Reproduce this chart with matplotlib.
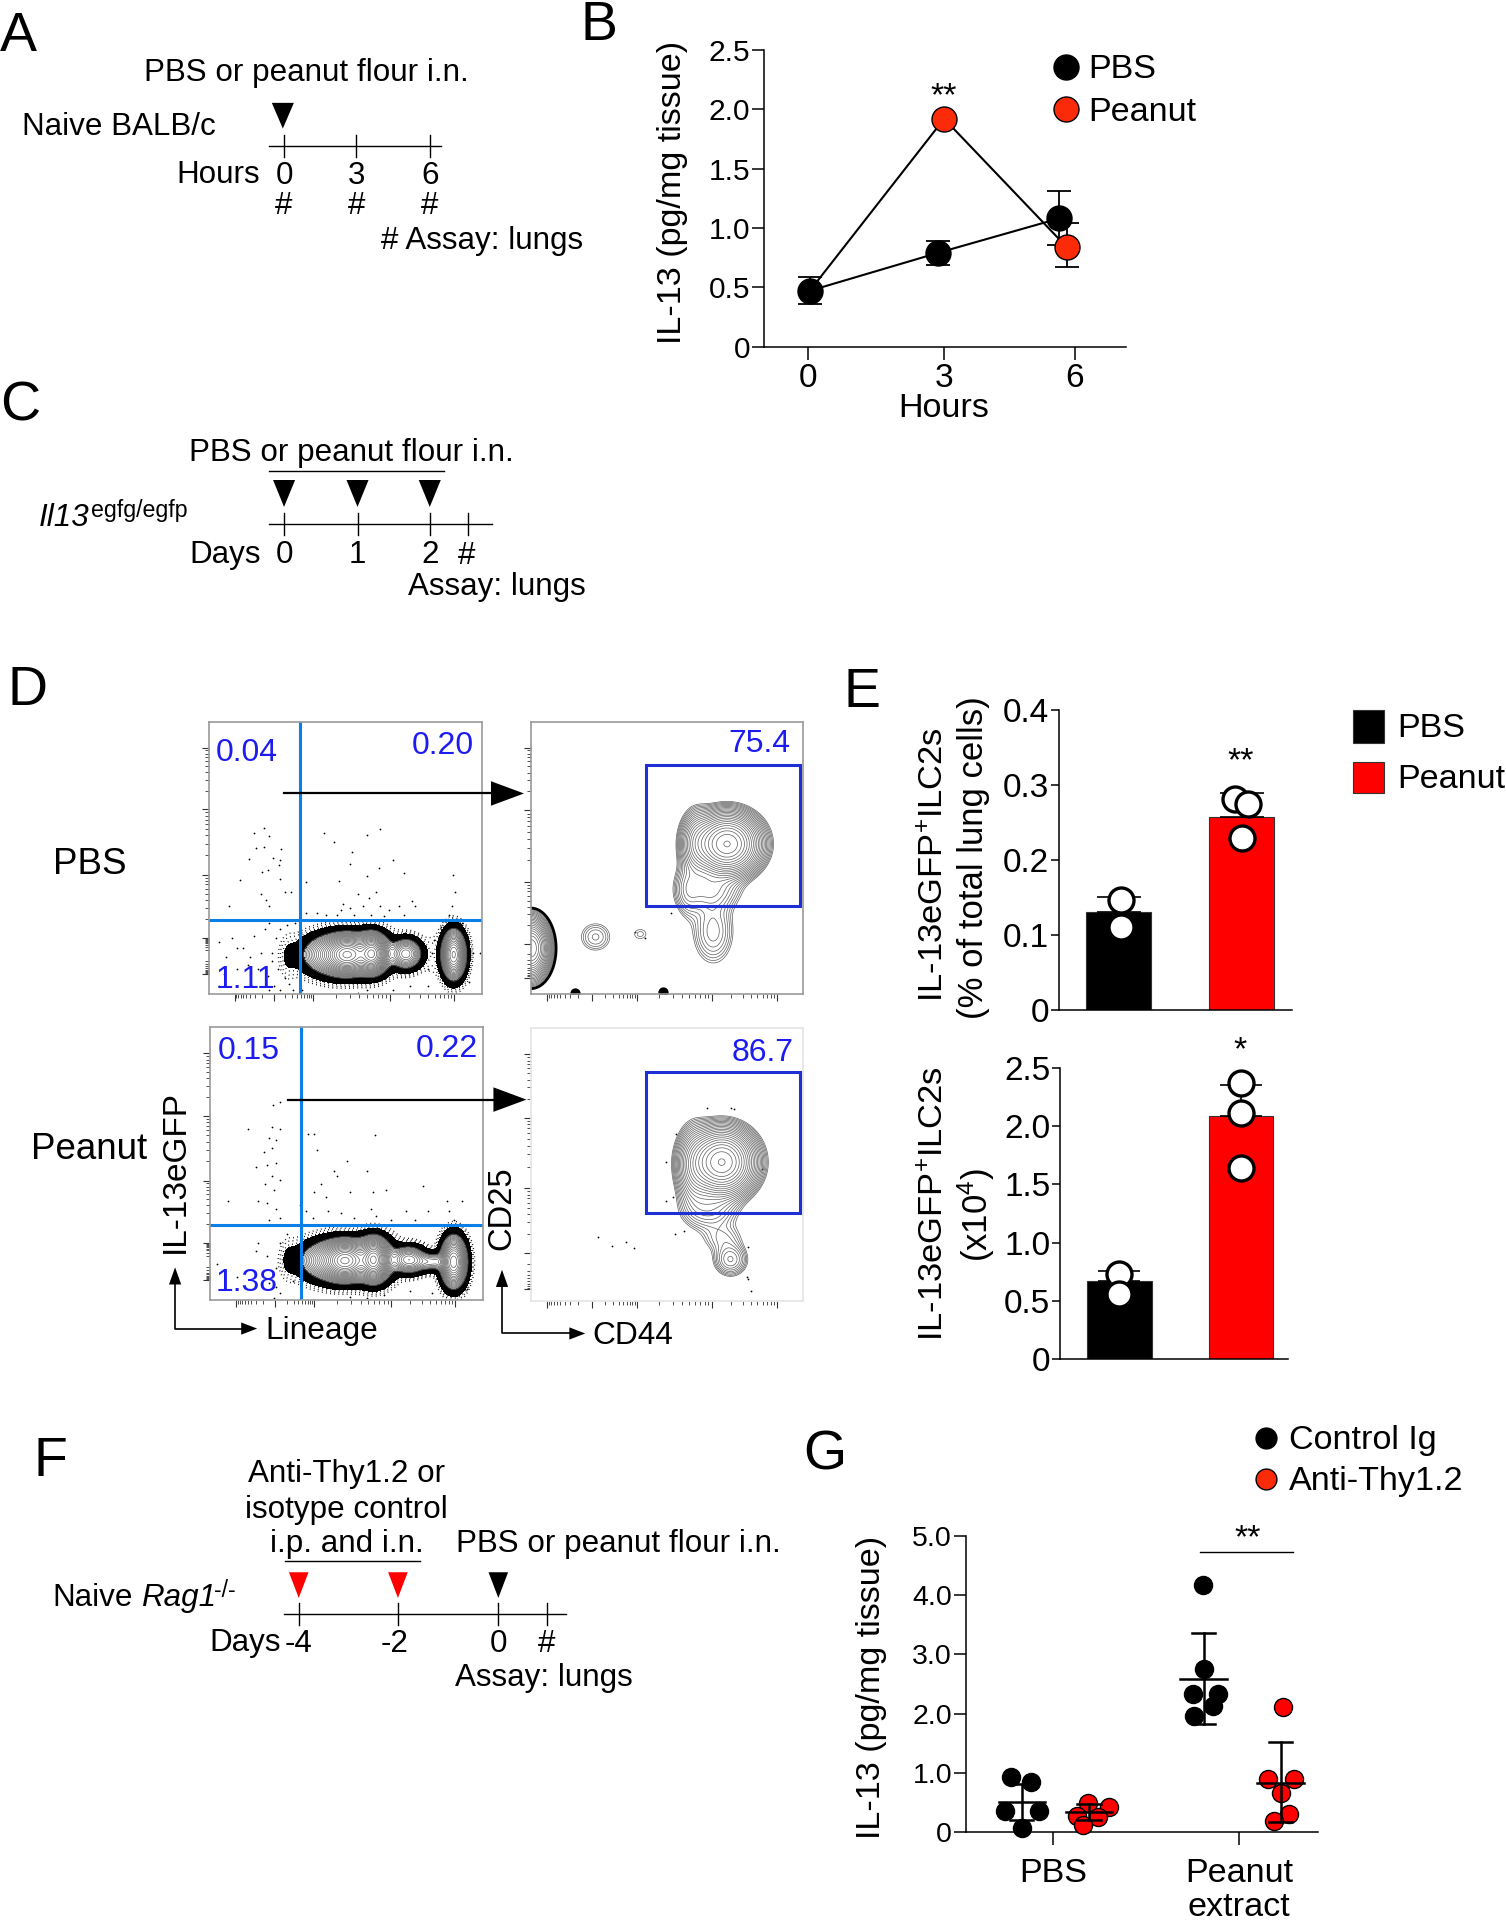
import numpy as np
import matplotlib
matplotlib.use('Agg')
import matplotlib.pyplot as plt
from matplotlib.patches import Rectangle

plt.rcParams['font.family'] = ['Liberation Sans', 'DejaVu Sans']
plt.rcParams['mathtext.fontset'] = 'custom'
plt.rcParams['mathtext.rm'] = 'Liberation Sans'
plt.rcParams['mathtext.it'] = 'Liberation Sans:italic'
plt.rcParams['mathtext.bf'] = 'Liberation Sans:bold'
plt.rcParams['mathtext.default'] = 'regular'

W, H = 1506, 1920
FS = 22.6
BIG = 24.6
BLUE = '#1c1cf0'
RED_B = '#fb2a08'
RED = '#fe0000'

# panel B
hours = [0, 3, 6]
pbs_x = [0.04, 2.83, 5.46]
pbs_y = [0.47, 0.79, 1.08]
pbs_lo = [0.36, 0.69, 0.86]
pbs_hi = [0.59, 0.89, 1.31]
pea_x = [0.04, 2.96, 5.62]
pea_y = [0.47, 1.92, 0.84]
pea_lo = [0.47, 1.92, 0.67]
pea_hi = [0.47, 1.92, 1.04]

# panel E
bar_names = [1, 2]
pct_means = [0.13, 0.258]
pct_hi = [0.151, 0.29]
pct_pts_x = [[1.02, 1.02], [1.95, 2.05, 2.0]]
pct_pts_y = [[0.147, 0.11], [0.281, 0.275, 0.23]]
num_means = [0.67, 2.09]
num_hi = [0.76, 2.35]
num_pts_x = [[1.0, 1.0], [2.0, 2.0, 2.0]]
num_pts_y = [[0.73, 0.557], [2.37, 2.11, 1.645]]

# panel G
g_groups = ['PBS', 'Peanut\nextract']
g_black1_x = [0.772, 0.882, 0.74, 0.923, 0.832]
g_black1_y = [0.922, 0.844, 0.349, 0.349, 0.067]
g_red1_x = [1.19, 1.299, 1.129, 1.242, 1.161]
g_red1_y = [0.489, 0.416, 0.276, 0.253, 0.112]
g_black2_x = [1.806, 1.814, 1.751, 1.887, 1.86, 1.758]
g_black2_y = [4.18, 2.756, 2.329, 2.334, 2.12, 1.957]
g_red2_x = [2.235, 2.158, 2.297, 2.226, 2.267, 2.188]
g_red2_y = [2.115, 0.9, 0.9, 0.652, 0.298, 0.191]
g_center = [0.832, 1.193, 1.81, 2.224]
g_mean = [0.506, 0.332, 2.587, 0.832]
g_top = [0.815, 0.478, 3.364, 1.513]
g_bot = [0.197, 0.197, 1.817, 0.169]

# panel D, everything read in crop pixels of the reference
# contours come from population centres and spreads: (x, y, sx, sy, amp)
d1_blobs = [(455, 605, 22, 20, 1), (512, 603, 14, 20, 1), (440, 605, 40, 24, .5), (510, 602, 24, 24, .4),
            (590, 603, 18, 18, .3), (700, 605, 13, 27, .75), (320, 610, 12, 28, .011), (650, 605, 14, 30, .005)]
d3_blobs = [(450, 1332, 22, 20, 1), (516, 1330, 14, 22, 1), (440, 1332, 42, 24, .5), (515, 1330, 24, 26, .4),
            (596, 1330, 20, 16, .3), (700, 1335, 14, 28, .8), (650, 1335, 25, 12, .12), (320, 1330, 11, 26, .011)]
d2_blobs = [(1330, 342, 36, 34, 1), (1260, 340, 20, 40, .12), (1298, 550, 28, 46, .045), (1290, 450, 40, 30, .06),
            (1027, 563, 25, 24, .028), (1130, 556, 17, 14, .016), (1240, 450, 18, 40, .035), (878, 590, 20, 33, .8)]
d2_heavy = [(878, 590, 20, 33, .8)]
d4_blobs = [(1318, 1098, 36, 37, 1), (1255, 1110, 22, 50, .12), (1290, 1210, 38, 30, .05),
            (1320, 1280, 30, 22, .025), (1338, 1330, 22, 22, .06)]
d1_dots = [(240,317),(262,305),(275,322),(262,350),(245,352),(228,378),(302,355),(283,375),(298,392),(300,380),
           (208,428),(258,408),(272,405),(300,425),(255,460),(268,475),(275,490),(182,490),(310,455),(325,455),
           (360,432),(402,315),(423,337),(500,320),(531,307),(465,360),(460,390),(435,430),(560,380),(528,400),
           (500,418),(585,410),(698,415),(703,457),(605,478),(480,462),(520,455),(505,470),(445,485),(460,495),
           (490,490),(530,490),(550,500),(575,490),(610,490),(695,490),(690,510),(440,500),(470,510),(510,510),
           (540,512),(585,510),(430,510),(360,505),(385,505),(405,510),(160,575),(190,565),(215,590),(240,560),
           (265,545),(290,565),(175,610),(200,590),(230,610),(255,600),(280,600),(170,650),(200,640),(225,630),
           (250,640),(295,640),(310,660),(160,680),(235,680),(275,690),(285,680),(300,690),(320,675),(745,600),
           (760,600),(640,640),(650,600),(655,570),(670,540),(720,530),(735,670),(640,680),(600,680),(560,690),
           (480,695),(500,690),(275,530),(300,545),(315,535),(335,530),(280,620),(272,655),(330,690),(350,690)]
d3_dots = [(283,962),(300,955),(225,1020),(282,1015),(300,1020),(275,1040),(290,1045),(280,1065),(262,1075),
           (245,1110),(270,1105),(290,1100),(280,1130),(300,1140),(265,1150),(285,1165),(250,1190),(270,1195),
           (290,1210),(275,1235),(300,1230),(180,1190),(365,1032),(378,1032),(518,1033),(385,1070),(453,1095),
           (425,1120),(500,1120),(430,1130),(395,1150),(378,1170),(405,1180),(460,1170),(515,1170),(545,1165),
           (630,1155),(590,1215),(640,1215),(685,1190),(720,1190),(690,1215),(510,1210),(520,1225),(440,1220),
           (470,1230),(375,1230),(410,1215),(345,1200),(360,1215),(555,1235),(610,1235),(700,1235),(250,1290),
           (270,1320),(290,1350),(245,1310),(300,1290),(315,1270),(320,1300),(275,1385),(290,1395),(300,1410),
           (285,1420),(330,1380),(460,1418),(500,1420),(540,1415),(600,1405),(650,1410),(730,1400),(740,1320),
           (732,1280),(155,1340),(200,1370)]
d2_dots = [(1200,505),(1140,565),(1118,552)]
d4_dots = [(1033,1275),(1065,1298),(1098,1288),(1115,1302),(1283,970),(1338,970),(1345,972),(1213,1032),
           (1190,1098),(1410,1115),(1205,1180),(1190,1190),(1230,1262),(1210,1268),(1378,1300),(1378,1375),
           (1385,1405),(1375,1370)]
d2_big_dots = [(980, 697), (1182, 693)]


def px_axes(left, top, right, bottom):
    return fig.add_axes([left / W, 1 - bottom / H, (right - left) / W, (bottom - top) / H])


def style(ax, size=24, length=9, pad=3):
    for side in ['top', 'right']:
        ax.spines[side].set_visible(False)
    for side in ['left', 'bottom']:
        ax.spines[side].set_linewidth(1.1)
    ax.tick_params(labelsize=size, width=1.1, length=length, pad=pad)
    ax.patch.set_alpha(0)


def decade_ticks(decades):
    out = []
    for a, b in decades:
        out += [a + (b - a) * np.log10(k) for k in range(2, 10)]
    return out


def density(gx, gy, blobs):
    z = np.zeros_like(gx, dtype=float)
    for bx, by, sx, sy, amp in blobs:
        z += amp * np.exp(-(gx - bx) ** 2 / (2 * sx ** 2) - (gy - by) ** 2 / (2 * sy ** 2))
    return z


def flow_panel(box, xlim, ylim, blobs, dots, xmajor, xdec, ymajor, ydec, frame, band=None, levels=None, heavy=None):
    ax = px_axes(*box)
    ax.set_xlim(*xlim)
    ax.set_ylim(*ylim)
    gx, gy = np.meshgrid(np.arange(xlim[0], xlim[1] + 1), np.arange(ylim[1], ylim[0] + 1))
    z = density(gx, gy, blobs)
    if band:
        ax.contourf(gx, gy, z, levels=band, colors='k')
        # stipple fringe round the black band, where the events thin out
        ax.contour(gx, gy, z, levels=[band[0] * 0.22, band[0] * 0.4, band[0] * 0.7], colors='k',
                   linewidths=1.0, linestyles=[(0, (0.6, 2.4))])
    ax.contour(gx, gy, z, levels=levels, colors='#5e5e5e', linewidths=0.5)
    if heavy:
        ax.contour(gx, gy, density(gx, gy, heavy), levels=[0.012], colors='k', linewidths=2)
    ax.scatter([d[0] for d in dots], [d[1] for d in dots], s=1.6, c='k', linewidths=0)
    ax.set_xticks(xmajor)
    ax.set_yticks(ymajor)
    ax.set_xticks(decade_ticks(xdec), minor=True)
    ax.set_yticks(decade_ticks(ydec), minor=True)
    ax.tick_params(labelbottom=False, labelleft=False, length=5, width=0.8, color='#333333')
    ax.tick_params(which='minor', length=3, width=0.6, color='#333333')
    for s in ax.spines.values():
        s.set_color(frame)
        s.set_linewidth(1.2)
    return ax


fig = plt.figure(figsize=(W / 100, H / 100), dpi=100)

# B
ax = px_axes(764, 50, 1126, 346.5)
style(ax)
ax.set_xlim((764 - 808) / 46, (1126 - 808) / 46)
ax.set_ylim(0, 2.5)
ax.set_xticks([0, 2.96, 5.8])
ax.set_xticklabels(hours)
ax.set_yticks([0, 0.5, 1, 1.5, 2, 2.5])
ax.set_yticklabels(['0', '0.5', '1.0', '1.5', '2.0', '2.5'])
ax.tick_params(axis='y', labelsize=21.5, pad=1)
ax.errorbar(pbs_x, pbs_y, yerr=[np.subtract(pbs_y, pbs_lo), np.subtract(pbs_hi, pbs_y)], color='k', lw=1.5,
            marker='o', ms=18, mfc='k', mec='k', capsize=8.5, capthick=1.3, elinewidth=1.3, clip_on=False)
ax.errorbar(pea_x, pea_y, yerr=[np.subtract(pea_y, pea_lo), np.subtract(pea_hi, pea_y)], color='k', lw=1.5,
            fmt='-', capsize=8.5, capthick=1.3, elinewidth=1.3, zorder=3)
ax.plot(pea_x[1:], pea_y[1:], 'o', ms=18, mfc=RED_B, mec='k', mew=1, zorder=4)
ax.plot(pbs_x[:1], pbs_y[:1], 'o', ms=13, mfc='k', mec='k', zorder=5)

# E
ax = px_axes(1059, 710, 1292, 1010)
style(ax, length=6, pad=1)
ax.set_xlim(0.516, 2.41)
ax.set_ylim(0, 0.4)
ax.set_xticks([])
ax.set_yticks([0, 0.1, 0.2, 0.3, 0.4])
ax.set_yticklabels(['0', '0.1', '0.2', '0.3', '0.4'])
ax.bar(bar_names, pct_means, width=0.53, color=['k', RED], edgecolor='#333333', linewidth=0.8)
ax.errorbar(bar_names, pct_means, yerr=[[0, 0], np.subtract(pct_hi, pct_means)], fmt='none', ecolor='k',
            capsize=16, elinewidth=1.2, capthick=1.2)
for px_, py_ in zip(pct_pts_x, pct_pts_y):
    ax.plot(px_, py_, 'o', ms=18, mfc='white', mec='k', mew=2.4, ls='none', zorder=4, clip_on=False)

ax = px_axes(1060, 1068, 1288, 1359)
style(ax, length=6, pad=1)
ax.set_xlim(0.51, 2.39)
ax.set_ylim(0, 2.5)
ax.set_xticks([])
ax.set_yticks([0, 0.5, 1, 1.5, 2, 2.5])
ax.set_yticklabels(['0', '0.5', '1.0', '1.5', '2.0', '2.5'])
ax.bar(bar_names, num_means, width=0.53, color=['k', RED], edgecolor='#333333', linewidth=0.8)
ax.errorbar(bar_names, num_means, yerr=[[0, 0], np.subtract(num_hi, num_means)], fmt='none', ecolor='k',
            capsize=15, elinewidth=1.2, capthick=1.2)
for px_, py_ in zip(num_pts_x, num_pts_y):
    ax.plot(px_, py_, 'o', ms=18, mfc='white', mec='k', mew=2.4, ls='none', zorder=4, clip_on=False)

# G
ax = px_axes(966, 1536, 1318, 1832)
style(ax, size=20.5, pad=1)
ax.set_xlim(1 + (966 - 1053) / 186, 1 + (1318 - 1053) / 186)
ax.set_ylim(0, 5)
ax.set_xticks([1, 2])
ax.set_xticklabels(g_groups, linespacing=1.1, fontsize=BIG)
ax.tick_params(axis='x', pad=10)
ax.set_yticks([0, 1, 2, 3, 4, 5])
ax.set_yticklabels(['0', '1.0', '2.0', '3.0', '4.0', '5.0'])
for gx_, gy_, col in [(g_black1_x, g_black1_y, 'k'), (g_red1_x, g_red1_y, RED),
                      (g_black2_x, g_black2_y, 'k'), (g_red2_x, g_red2_y, RED)]:
    ax.plot(gx_, gy_, 'o', ms=13, mfc=col, mec='k', mew=1, ls='none', clip_on=False, zorder=3)
for c, m, t_, b in zip(g_center, g_mean, g_top, g_bot):
    ax.plot([c, c], [b, t_], color='k', lw=1.8, zorder=4)
    ax.plot([c - 0.125, c + 0.125], [m, m], color='k', lw=1.8, zorder=4)
    ax.plot([c - 0.063, c + 0.063], [t_, t_], color='k', lw=1.8, zorder=4)
    ax.plot([c - 0.063, c + 0.063], [b, b], color='k', lw=1.8, zorder=4)
ax.plot([1.79, 2.29], [4.73, 4.73], color='k', lw=1)

# D
lev = np.geomspace(0.05, 1.4, 21)
lev2 = np.geomspace(0.012, 0.98, 23)
x1 = [195, 285, 375, 553, 700]
a = flow_panel((208.6, 721.9, 481.9, 993.8), (135, 765), (698, 52), d1_blobs, d1_dots, x1,
               [(285, 195), (285, 375), (375, 553), (553, 700)], [113, 260, 415, 565, 650],
               [(260, 113), (415, 260), (565, 415), (607, 565), (607, 650)], '#9a9a9a',
               band=[0.01, 0.05], levels=lev)
a.axvline(345, color='#0a7fe8', lw=2.2)
a.axhline(522, color='#0a7fe8', lw=2.2)
x3 = [198, 288, 378, 556, 703]
a = flow_panel((209.9, 1027.4, 482.8, 1299.7), (138, 767), (1425, 778), d3_blobs, d3_dots, x3,
               [(288, 198), (288, 378), (378, 556), (556, 703)], [840, 988, 1142, 1290, 1378],
               [(988, 840), (1142, 988), (1290, 1142), (1335, 1290), (1335, 1378)], '#9a9a9a',
               band=[0.01, 0.05], levels=lev)
a.axvline(349, color='#0a7fe8', lw=2.2)
a.axhline(1248, color='#0a7fe8', lw=2.2)
x2 = [915, 1018, 1122, 1295, 1445]
a = flow_panel((530.5, 721.9, 803, 993.8), (877, 1505), (698, 52), d2_blobs, d2_dots, x2,
               [(1018, 915), (1018, 1122), (1122, 1295), (1295, 1445)], [113, 262, 432, 580, 660],
               [(262, 113), (432, 262), (580, 432), (580, 660)], '#9a9a9a',
               levels=lev2, heavy=d2_heavy)
a.scatter([d[0] for d in d2_big_dots], [d[1] for d in d2_big_dots], s=55, c='k', linewidths=0)
a.add_patch(Rectangle((1144, 155), 353, 335, fill=False, ec='#1f2fd6', lw=2.2, zorder=5))
a = flow_panel((530.5, 1028.3, 803, 1301), (877, 1505), (1428, 780), d4_blobs, d4_dots, x2,
               [(1018, 915), (1018, 1122), (1122, 1295), (1295, 1445)], [842, 992, 1160, 1315, 1400],
               [(992, 842), (1160, 992), (1315, 1160), (1315, 1400)], '#e4e4e4',
               levels=lev2)
a.add_patch(Rectangle((1143, 885), 354, 335, fill=False, ec='#1f2fd6', lw=2.2, zorder=5))

# overlay in the 1230 wide coordinates of the shrunk reference
os_ = fig.add_axes([0, 0, 1, 1], zorder=11)
os_.set_xlim(0, 1230)
os_.set_ylim(1568, 0)
os_.axis('off')


def t(x, y, s, ha='left', size=FS, color='k', rot=0, **kw):
    os_.text(x, y + 2, s, ha=ha, va='center', fontsize=size, color=color, rotation=rot, **kw)


def tri(x, y0, y1, color='k', half=9):
    os_.fill([x - half, x + half, x], [y0, y0, y1], color=color, lw=0)


def timeline(x0, x1, y, ticks, dy=9):
    os_.plot([x0, x1], [y, y], color='k', lw=1)
    for v in ticks:
        os_.plot([v, v], [y - dy, y + dy], color='k', lw=1)


# panel letters
for x, y, s in [(0, 28, 'A'), (474, 19, 'B'), (0, 330, 'C'), (6, 562, 'D'), (689, 564, 'E'), (27, 1192, 'F'),
                (656, 1187, 'G')]:
    t(x, y, s, size=40)

# A
t(250, 58, 'PBS or peanut flour i.n.', ha='center')
t(18, 102, 'Naive BALB/c')
tri(231, 84, 105)
timeline(220, 360, 119, [232, 291, 351])
t(212, 141, 'Hours', ha='right')
for x, s in zip([232, 291, 351], hours):
    t(x, 142, str(s), ha='center')
    t(x, 166, '#', ha='center')
t(311, 195, '# Assay: lungs')

# B text
t(549, 155, 'IL-13 (pg/mg tissue)', ha='center', rot=90, size=BIG)
t(771, 332, 'Hours', ha='center', size=BIG)
t(771, 77, '**', ha='center', size=BIG)
os_.plot([871], [55], 'o', ms=18, color='k')
os_.plot([871], [89], 'o', ms=18, mfc=RED_B, mec='k')
t(889, 55, 'PBS', size=BIG)
t(889, 90, 'Peanut', size=BIG)

# C
t(287, 368, 'PBS or peanut flour i.n.', ha='center')
os_.plot([220, 363], [385, 385], color='k', lw=1)
for x in [232, 292, 351]:
    tri(x, 392, 414)
timeline(220, 402, 428, [232, 292, 351, 382])
t(32, 421, 'Il13', style='italic')
t(74, 415, 'egfg/egfp', size=16.7)
t(213, 451, 'Days', ha='right')
for x, s in zip([232, 292, 351], ['0', '1', '2']):
    t(x, 451, s, ha='center')
t(381, 452, '#', ha='center')
t(333, 477, 'Assay: lungs')

# D text
t(43, 704, 'PBS', size=26.5)
t(25, 937, 'Peanut', size=26.5)
for x, y, s, ha in [(176, 613, '0.04', 'left'), (387, 607, '0.20', 'right'), (176, 798, '1.11', 'left'),
                    (646, 606, '75.4', 'right'), (178, 856, '0.15', 'left'), (390, 855, '0.22', 'right'),
                    (176, 1046, '1.38', 'left'), (648, 858, '86.7', 'right')]:
    t(x, y, s, ha=ha, color=BLUE, size=23)
for x0, x1, y in [(232, 428, 648), (235, 430, 898)]:
    os_.plot([x0, x1 - 24], [y, y], color='k', lw=1.6)
    os_.fill([x1 - 27, x1 - 27, x1], [y - 10, y + 10, y], color='k', lw=0)
for x, y0, y1, x1 in [(143, 1085, 1035, 210), (410, 1089, 1037, 478)]:
    os_.plot([x, x, x1 - 10], [y1 + 8, y0, y0], color='k', lw=1.2)
    os_.fill([x - 5, x + 5, x], [y1 + 14, y1 + 14, y1], color='k', lw=0)
    os_.fill([x1 - 13, x1 - 13, x1], [y0 - 5, y0 + 5, y0], color='k', lw=0)
t(217, 1085, 'Lineage', size=22.8)
t(484, 1089, 'CD44', size=22.8)
t(143, 955, 'IL-13eGFP', ha='center', rot=90, size=24)
t(410, 985, 'CD25', ha='center', rot=90, size=23.6)

# E text
t(763, 704, 'IL-13eGFP$^{+}$ILC2s', ha='center', rot=90, size=24.8)
t(795, 698, '(% of total lung cells)', ha='center', rot=90, size=25)
t(763, 981, 'IL-13eGFP$^{+}$ILC2s', ha='center', rot=90, size=24.8)
t(797, 990, '(x10$^{4}$)', ha='center', rot=90, size=25)
t(1013, 620, '**', ha='center', size=BIG)
t(1013, 856, '*', ha='center', size=BIG)
os_.add_patch(Rectangle((1105, 580), 25, 27, fc='k', ec='#333333', lw=0.8))
os_.add_patch(Rectangle((1105, 622), 25, 26, fc=RED, ec='#333333', lw=0.8))
t(1141, 593, 'PBS', size=BIG)
t(1141, 635, 'Peanut', size=BIG)

# F
t(283, 1202, 'Anti-Thy1.2 or', ha='center')
t(283, 1231, 'isotype control', ha='center')
t(283, 1259, 'i.p. and i.n.', ha='center')
os_.plot([233, 343], [1275, 1275], color='k', lw=1)
tri(244, 1284, 1305, color=RED, half=8)
tri(325, 1284, 1305, color=RED, half=8)
tri(407, 1284, 1305, half=8)
timeline(232, 462, 1318, [244, 325, 407, 447])
t(43, 1303, 'Naive')
t(115, 1303, 'Rag1', style='italic')
t(175, 1297, '-/-', size=16.7)
t(229, 1340, 'Days', ha='right')
for x, s in zip([244, 322, 407, 446], ['-4', '-2', '0', '#']):
    t(x, 1341, s, ha='center')
t(505, 1259, 'PBS or peanut flour i.n.', ha='center')
t(372, 1368, 'Assay: lungs')

# G text
t(712, 1376, 'IL-13 (pg/mg tissue)', ha='center', rot=90, size=BIG)
t(1019, 1255, '**', ha='center', size=BIG)
os_.plot([1034], [1174], 'o', ms=15, color='k')
os_.plot([1034], [1208], 'o', ms=15, mfc=RED_B, mec='k')
t(1053, 1174, 'Control Ig', size=BIG)
t(1053, 1208, 'Anti-Thy1.2', size=BIG)

fig.savefig('out.png', dpi=100)
